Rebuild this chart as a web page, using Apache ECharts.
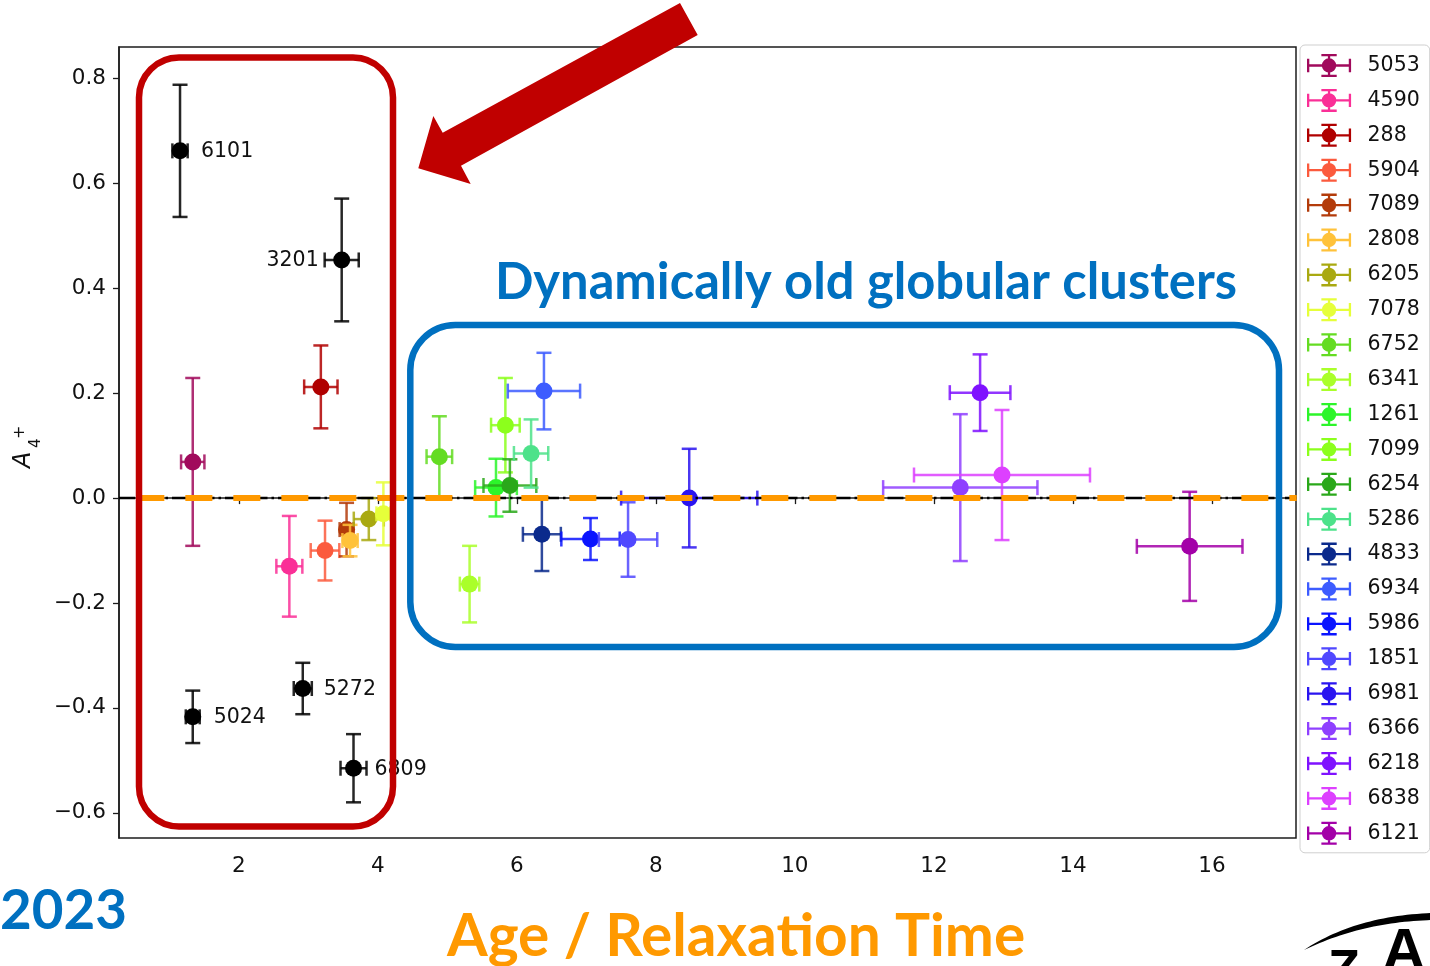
<!DOCTYPE html>
<html>
<head>
<meta charset="utf-8">
<script src="https://cdn.jsdelivr.net/npm/echarts@6/dist/echarts.min.js"></script>
<style>
  html, body { margin: 0; padding: 0; background: #ffffff; }
  #chart { width: 1430px; height: 966px; }
</style>
</head>
<body>
<div id="chart"></div>
<script>
// Globular clusters (NGC numbers), age / relaxation time and A4+ with 1-sigma errors
const clusterNames = ['5053', '4590', '288', '5904', '7089', '2808', '6205', '7078', '6752', '6341', '1261', '7099',
  '6254', '5286', '4833', '6934', '5986', '1851', '6981', '6366', '6218', '6838', '6121'];
const ageRelax = [1.337, 2.727, 3.18, 3.24, 3.55, 3.60, 3.87, 4.08, 4.885, 5.32, 5.70, 5.835,
  5.90, 6.205, 6.36, 6.39, 7.06, 7.60, 8.48, 12.38, 12.665, 12.98, 15.68];
const a4Plus = [0.069, -0.130, 0.212, -0.100, -0.060, -0.081, -0.040, -0.030, 0.079, -0.164, 0.020, 0.139,
  0.024, 0.085, -0.069, 0.204, -0.078, -0.079, 0.000, 0.020, 0.201, 0.044, -0.092];
const ageRelaxErr = [0.168, 0.187, 0.24, 0.206, 0.10, 0.11, 0.216, 0.10, 0.184, 0.14, 0.30, 0.206,
  0.38, 0.247, 0.273, 0.52, 0.42, 0.42, 0.98, 1.11, 0.436, 1.266, 0.76];
const a4PlusErr = [0.160, 0.096, 0.079, 0.057, 0.051, 0.030, 0.040, 0.060, 0.077, 0.073, 0.055, 0.090,
  0.050, 0.065, 0.070, 0.073, 0.040, 0.071, 0.094, 0.140, 0.073, 0.124, 0.104];

// Per-cluster colours
const clusterColors = ['#a10a5c', '#fa2f97', '#b00000', '#fb5a3d', '#b33b0a', '#ffc23a', '#a9a911', '#e6ff3a',
  '#64dc22', '#aaff2a', '#2cf52a', '#8cff1c', '#2aa81a', '#4de28a', '#0b2a8c', '#3d5cff', '#0a14ff', '#5048ff',
  '#2a14f0', '#8f40ff', '#7f12ff', '#dd40ff', '#a300a8'];

// Dynamically young outliers, labelled by name
const outlierNames = ['6101', '3201', '5024', '5272', '6809'];
const outlierAge = [1.154, 3.48, 1.337, 2.92, 3.65];
const outlierA4 = [0.662, 0.454, -0.417, -0.363, -0.515];
const outlierAgeErr = [0.11, 0.245, 0.10, 0.13, 0.187];
const outlierA4Err = [0.126, 0.117, 0.05, 0.049, 0.065];
const outlierLabelSide = ['right', 'left', 'right', 'right', 'right'];

// Axis ticks
const xTicks = [2, 4, 6, 8, 10, 12, 14, 16];
const yTicks = [-0.6, -0.4, -0.2, 0.0, 0.2, 0.4, 0.6, 0.8];
const xRange = [0.276, 17.21];
const yRange = [-0.648, 0.86];
// Start of the highlighted zero line
const zeroLineStart = 0.54;

const TICK_FONT = '"DejaVu Sans", sans-serif';
const NOTE_FONT = 'Lato, "Open Sans", sans-serif';

function fitFontSize(text, weight, family, width) {
  const ctx = document.createElement('canvas').getContext('2d');
  ctx.font = weight + ' 100px ' + family;
  return 100 * width / ctx.measureText(text).width;
}

function fmtTick(v) {
  const s = Math.abs(v).toFixed(1);
  return v < -1e-9 ? '\u2212' + s : s;
}

// Crescent swoosh outline from two quadratic curves
function swooshPoints() {
  const pts = [];
  const q = function (p0, p1, p2, t) {
    const u = 1 - t;
    return [u * u * p0[0] + 2 * u * t * p1[0] + t * t * p2[0], u * u * p0[1] + 2 * u * t * p1[1] + t * t * p2[1]];
  };
  for (let i = 0; i <= 30; i++) pts.push(q([1304, 950], [1355, 916], [1432, 913], i / 30));
  for (let i = 30; i >= 0; i--) pts.push(q([1304, 950], [1362, 922], [1432, 920], i / 30));
  return pts;
}

// Error bar glyph: horizontal and vertical bars with caps, filled marker
function errorBarRenderer(color, labels, sides) {
  return function (params, api) {
    const x = api.value(0), y = api.value(1), xe = api.value(2), ye = api.value(3);
    const c = api.coord([x, y]);
    const l = api.coord([x - xe, y]);
    const r = api.coord([x + xe, y]);
    const t = api.coord([x, y + ye]);
    const b = api.coord([x, y - ye]);
    const cap = 7.5;
    const ls = { stroke: color, lineWidth: 2.5, opacity: 0.85 };
    const children = [
      { type: 'line', shape: { x1: l[0], y1: c[1], x2: r[0], y2: c[1] }, style: ls },
      { type: 'line', shape: { x1: l[0], y1: c[1] - cap, x2: l[0], y2: c[1] + cap }, style: ls },
      { type: 'line', shape: { x1: r[0], y1: c[1] - cap, x2: r[0], y2: c[1] + cap }, style: ls },
      { type: 'line', shape: { x1: c[0], y1: t[1], x2: c[0], y2: b[1] }, style: ls },
      { type: 'line', shape: { x1: c[0] - cap, y1: t[1], x2: c[0] + cap, y2: t[1] }, style: ls },
      { type: 'line', shape: { x1: c[0] - cap, y1: b[1], x2: c[0] + cap, y2: b[1] }, style: ls },
      { type: 'circle', shape: { cx: c[0], cy: c[1], r: 8.5 }, style: { fill: color } }
    ];
    if (labels) {
      const side = sides[params.dataIndex];
      children.push({
        type: 'text',
        x: side === 'right' ? c[0] + 21 : c[0] - 23,
        y: c[1] + 1,
        style: {
          text: labels[params.dataIndex],
          fill: '#111',
          font: '20.5px ' + TICK_FONT,
          align: side === 'right' ? 'left' : 'right',
          verticalAlign: 'middle'
        }
      });
    }
    return { type: 'group', children: children };
  };
}

// Legend glyph matching the error bar marker
const errorBarIcon = 'path://M0 10.8H46V13.2H0Z M0 5H2.4V19H0Z M43.6 5H46V19H43.6Z M21.8 0H24.2V24H21.8Z M15 0H31V2.4H15Z M15 21.6H31V24H15Z ' +
  'M15.5 12A7.5 7.5 0 1 1 30.5 12A7.5 7.5 0 1 1 15.5 12Z';

const series = clusterNames.map(function (name, i) {
  return {
    type: 'custom',
    name: name,
    z: 2,
    silent: true,
    itemStyle: { color: clusterColors[i] },
    encode: { x: 0, y: 1 },
    data: [[ageRelax[i], a4Plus[i], ageRelaxErr[i], a4PlusErr[i]]],
    renderItem: errorBarRenderer(clusterColors[i], null, null)
  };
});

series.push({
  type: 'custom',
  name: 'outliers',
  z: 2,
  silent: true,
  itemStyle: { color: '#000' },
  encode: { x: 0, y: 1 },
  data: outlierNames.map(function (n, i) {
    return [outlierAge[i], outlierA4[i], outlierAgeErr[i], outlierA4Err[i]];
  }),
  renderItem: errorBarRenderer('#000000', outlierNames, outlierLabelSide)
});

// Zero reference (dash-dot) and the highlighted zero line on top
series.push({
  type: 'line',
  name: 'zero',
  z: 3,
  silent: true,
  symbol: 'none',
  data: [[xRange[0], 0], [xRange[1], 0]],
  lineStyle: { color: '#000', width: 2.5, type: [16, 4, 2.5, 4] }
});
series.push({
  type: 'line',
  name: 'zeroHighlight',
  z: 4,
  silent: true,
  symbol: 'none',
  clip: false,
  data: [[zeroLineStart, 0], [xRange[1] + 0.01, 0]],
  lineStyle: { color: '#ff9900', width: 6, type: [27, 21] }
});

const titleSize = fitFontSize('Dynamically old globular clusters', 'bold', NOTE_FONT, 742);
const xNameSize = fitFontSize('Age / Relaxation Time', 'bold', NOTE_FONT, 578);
const yearSize = fitFontSize('2023', 'bold', NOTE_FONT, 127);

const chart = echarts.init(document.getElementById('chart'), null, { renderer: 'canvas' });
chart.setOption({
  animation: false,
  backgroundColor: '#ffffff',
  grid: {
    left: 119, right: 134, top: 47, bottom: 128,
    show: true, borderColor: '#1c1c1c', borderWidth: 1.5, backgroundColor: 'transparent'
  },
  xAxis: {
    type: 'value',
    min: xRange[0], max: xRange[1],
    axisLine: { show: true, lineStyle: { color: '#1c1c1c', width: 1.5 } },
    axisTick: { show: true, customValues: xTicks, length: 6, lineStyle: { color: '#1c1c1c', width: 1.3 } },
    axisLabel: { customValues: xTicks, formatter: function (v) { return String(Math.round(v)); },
      color: '#111', fontFamily: TICK_FONT, fontSize: 21.5, margin: 17 },
    splitLine: { show: false }
  },
  yAxis: {
    type: 'value',
    min: yRange[0], max: yRange[1],
    axisLine: { show: true, lineStyle: { color: '#1c1c1c', width: 1.5 } },
    axisTick: { show: true, customValues: yTicks, length: 6, lineStyle: { color: '#1c1c1c', width: 1.3 } },
    axisLabel: { customValues: yTicks, formatter: fmtTick, padding: [4, 0, 0, 0],
      color: '#111', fontFamily: TICK_FONT, fontSize: 21.5, margin: 13 },
    splitLine: { show: false }
  },
  legend: {
    orient: 'vertical',
    left: 1300, top: 45,
    padding: [9, 10, 8, 7],
    backgroundColor: '#ffffff',
    borderColor: '#cfcfcf',
    borderWidth: 1,
    borderRadius: 5,
    itemWidth: 45,
    itemHeight: 23,
    itemGap: 11.9,
    selectedMode: false,
    data: clusterNames.map(function (n, i) {
      return { name: n, icon: errorBarIcon, itemStyle: { color: clusterColors[i] } };
    }),
    textStyle: { color: '#111', fontFamily: TICK_FONT, fontSize: 20.5, padding: [0, 0, 0, 11] }
  },
  graphic: {
    elements: [
      // y-axis name: A_4^+
      {
        type: 'group', x: 24, y: 468, rotation: Math.PI / 2, z: 50,
        children: [
          { type: 'text', x: 0, y: 0, style: { text: 'A', font: 'italic 24px ' + TICK_FONT, fill: '#111', align: 'left', verticalAlign: 'middle' } },
          { type: 'text', x: 20, y: 12, style: { text: '4', font: '15px ' + TICK_FONT, fill: '#111', align: 'left', verticalAlign: 'middle' } },
          { type: 'text', x: 29, y: -4, style: { text: '+', font: '16px ' + TICK_FONT, fill: '#111', align: 'left', verticalAlign: 'middle' } }
        ]
      },
      // young clusters box
      {
        type: 'rect', z: 60,
        shape: { x: 139, y: 57.5, width: 254, height: 769, r: 40 },
        style: { fill: 'none', stroke: '#c00000', lineWidth: 6.5 }
      },
      // dynamically old clusters box
      {
        type: 'rect', z: 60,
        shape: { x: 410.3, y: 325, width: 868.7, height: 322, r: 45 },
        style: { fill: 'none', stroke: '#0070c0', lineWidth: 6.5 }
      },
      // arrow
      {
        type: 'polygon', z: 60,
        shape: { points: [[680, 3], [697.7, 35], [461, 165.7], [470.7, 184], [418.3, 168.3], [433.3, 116], [442.7, 132.7]] },
        style: { fill: '#c00000' }
      },
      {
        type: 'text', z: 60, x: 495, y: 283,
        style: { text: 'Dynamically old globular clusters', font: 'bold ' + titleSize.toFixed(1) + 'px ' + NOTE_FONT,
          fill: '#0070c0', align: 'left', verticalAlign: 'middle' }
      },
      {
        type: 'text', z: 60, x: 447, y: 937,
        style: { text: 'Age / Relaxation Time', font: 'bold ' + xNameSize.toFixed(1) + 'px ' + NOTE_FONT,
          fill: '#ff9900', align: 'left', verticalAlign: 'middle' }
      },
      {
        type: 'text', z: 60, x: 0, y: 911,
        style: { text: '2023', font: 'bold ' + yearSize.toFixed(1) + 'px ' + NOTE_FONT,
          fill: '#0070c0', align: 'left', verticalAlign: 'middle' }
      },
      // logo fragment
      {
        type: 'polygon', z: 60,
        shape: { points: swooshPoints() },
        style: { fill: '#000' }
      },
      {
        type: 'text', z: 60, x: 1328, y: 946,
        style: { text: 'Z', font: 'bold 52px "Liberation Sans", sans-serif', fill: '#000', align: 'left', verticalAlign: 'top' }
      },
      {
        type: 'text', z: 60, x: 1404, y: 923,
        style: { text: 'A', font: 'bold 60px "Liberation Sans", sans-serif', fill: '#000', align: 'center', verticalAlign: 'top' }
      }
    ]
  },
  series: series
});
</script>
</body>
</html>
